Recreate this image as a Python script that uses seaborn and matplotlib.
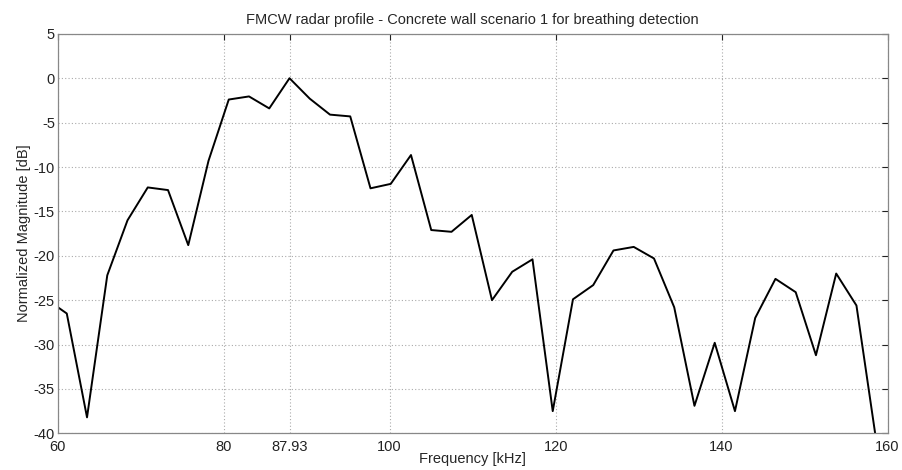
import matplotlib
matplotlib.use("Agg")
import matplotlib.pyplot as plt
import seaborn as sns
import pandas as pd

# Frequency samples [kHz] and normalized magnitude [dB]
freq_khz = [58.65, 61.09, 63.53, 65.97, 68.41, 70.85, 73.29, 75.73, 78.17, 80.61,
            83.05, 85.49, 87.93, 90.37, 92.81, 95.25, 97.69, 100.13, 102.57, 105.01,
            107.45, 109.89, 112.33, 114.77, 117.21, 119.65, 122.09, 124.53, 126.97,
            129.41, 131.85, 134.29, 136.73, 139.17, 141.61, 144.05, 146.49, 148.93,
            151.37, 153.81, 156.25, 158.69]
magnitude_db = [-24.9, -26.5, -38.2, -22.2, -16.0, -12.3, -12.6, -18.8, -9.3, -2.4,
                -2.05, -3.4, 0.0, -2.3, -4.1, -4.3, -12.4, -11.9, -8.65, -17.1,
                -17.3, -15.4, -25.0, -21.8, -20.4, -37.5, -24.9, -23.3, -19.4,
                -19.0, -20.3, -25.8, -36.9, -29.8, -37.5, -27.0, -22.6, -24.1,
                -31.2, -22.0, -25.6, -41.2]

x_ticks = [60, 80, 87.93, 100, 120, 140, 160]
x_tick_labels = ["60", "80", "87.93", "100", "120", "140", "160"]
y_ticks = [-40, -35, -30, -25, -20, -15, -10, -5, 0, 5]

title = "FMCW radar profile - Concrete wall scenario 1 for breathing detection"

sns.set_theme(style="white")
plt.rcParams['font.family'] = ['Liberation Sans', 'DejaVu Sans']
plt.rcParams['axes.unicode_minus'] = False

df = pd.DataFrame({"f": freq_khz, "m": magnitude_db})

fig = plt.figure(figsize=(9.02, 4.70), dpi=100)
ax = fig.add_axes([0.064, 0.078, 0.920, 0.850])

sns.lineplot(data=df, x="f", y="m", ax=ax, color="black", linewidth=1.4,
             sort=False, estimator=None)

ax.set_xlim(60, 160)
ax.set_ylim(-40, 5)
ax.set_xticks(x_ticks)
ax.set_xticklabels(x_tick_labels)
ax.set_yticks(y_ticks)

ax.grid(True, linestyle=(0, (1, 2)), color="#aaaaaa", linewidth=0.8)
ax.tick_params(direction="in", top=True, right=True, length=4, width=0.8,
               labelsize=10.5, colors="#222222", pad=2)
ax.tick_params(axis="x", pad=5)
for sp in ax.spines.values():
    sp.set_color("#888888")
    sp.set_linewidth(0.9)

ax.set_xlabel("Frequency [kHz]", fontsize=10.5, labelpad=-2)
ax.set_ylabel("Normalized Magnitude [dB]", fontsize=10.5, labelpad=2)
ax.set_title(title, fontsize=10.5, pad=7)

fig.savefig("out.png", dpi=100)
